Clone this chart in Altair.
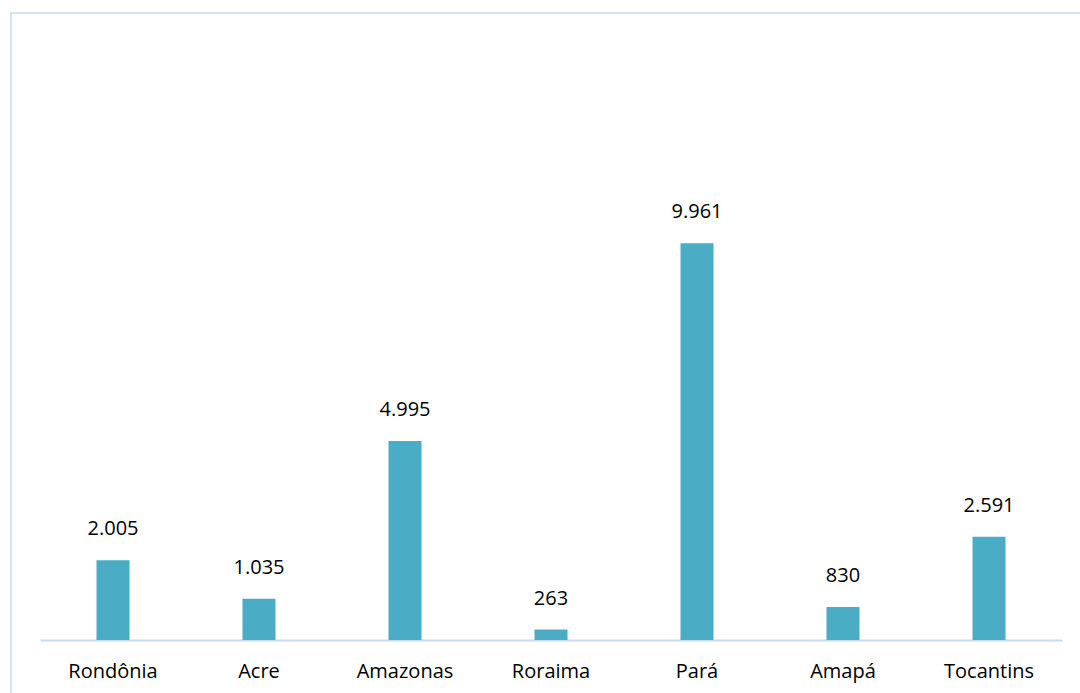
import altair as alt
import pandas as pd

estados = ["Rondônia", "Acre", "Amazonas", "Roraima", "Pará", "Amapá", "Tocantins"]
valores = [2005, 1035, 4995, 263, 9961, 830, 2591]
rotulos = ["2.005", "1.035", "4.995", "263", "9.961", "830", "2.591"]

df = pd.DataFrame({"estado": estados, "valor": valores, "rotulo": rotulos})

W, H = 1022, 478
FONT = "Open Sans"

x = alt.X("estado:N", sort=estados, title=None,
          scale=alt.Scale(paddingInner=0, paddingOuter=0),
          axis=alt.Axis(labelAngle=0, ticks=False, labelFont=FONT, labelFontSize=20,
                        labelColor="#000000", labelPadding=37, labelBaseline="alphabetic",
                        domainColor="#c6d9f1", domainWidth=2, grid=False))
y = alt.Y("valor:Q", scale=alt.Scale(domain=[0, 12000]), axis=None)

bars = alt.Chart(df).mark_bar(size=33, color="#4bacc6").encode(x=x, y=y)
labels = alt.Chart(df).mark_text(font=FONT, fontSize=20, color="#000000",
                                 baseline="alphabetic", dy=-25).encode(
    x=alt.X("estado:N", sort=estados), y="valor:Q", text="rotulo:N")

frame = alt.Chart(df).mark_rect(fill=None, stroke="#d5e3f3", strokeWidth=2, clip=False).encode(
    x=alt.value(-29), x2=alt.value(1060), y=alt.value(-149), y2=alt.value(600))

chart = alt.layer(frame, bars, labels).properties(
    width=W, height=H, autosize="none",
    padding={"left": 40, "right": 18, "top": 162, "bottom": 53},
    background="white"
).configure_view(stroke=None)

chart.save("out.html", embed_options={"renderer": "svg", "actions": False})
